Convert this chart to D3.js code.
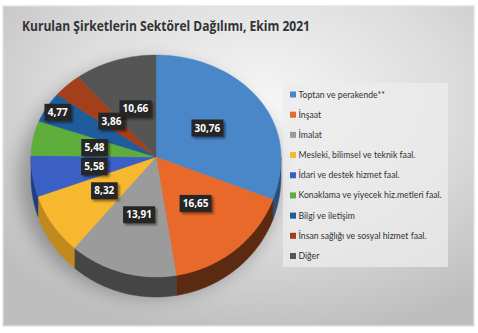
<!DOCTYPE html>
<html><head><meta charset="utf-8">
<script src="https://cdn.jsdelivr.net/npm/d3@7/dist/d3.min.js"></script>
<style>body{margin:0;background:#fff}svg{display:block}</style>
</head><body>
<svg id="c" width="478" height="333"></svg>
<script>
const title = "Kurulan Şirketlerin Sektörel Dağılımı, Ekim 2021";
const categories = ["Toptan ve perakende**","İnşaat","İmalat","Mesleki, bilimsel ve teknik faal.","İdari ve destek hizmet faal.","Konaklama ve yiyecek hiz.metleri faal.","Bilgi ve iletişim","İnsan sağlığı ve sosyal hizmet faal.","Diğer"];
const values = [30.76,16.65,13.91,8.32,5.58,5.48,4.77,3.86,10.66];
const valueLabels = ["30,76","16,65","13,91","8,32","5,58","5,48","4,77","3,86","10,66"];
const colors = ["#4a87c9","#e9692b","#9b9b9b","#f7b72f","#3a60c6","#5fae3b","#1f5c9b","#a3401a","#555555"];
const sideColors = ["#28507a","#5c2a10","#454545","#c08a1f","#233c80","#3a6e24","#133a62","#62260e","#333333"];

const svg = d3.select("#c");
const defs = svg.append("defs");
const bg = defs.append("radialGradient").attr("id","bg").attr("cx","0.55").attr("cy","0.3").attr("r","0.75");
bg.append("stop").attr("offset","0").attr("stop-color","#f6f6f6");
bg.append("stop").attr("offset","0.55").attr("stop-color","#dcdcdc");
bg.append("stop").attr("offset","1").attr("stop-color","#bdbdbd");
const sh = defs.append("filter").attr("id","sh").attr("x","-20%").attr("y","-20%").attr("width","150%").attr("height","150%");
sh.append("feGaussianBlur").attr("in","SourceAlpha").attr("stdDeviation","1.2");
sh.append("feOffset").attr("dx","1.5").attr("dy","1.5").attr("result","b");
sh.append("feComponentTransfer").append("feFuncA").attr("type","linear").attr("slope","0.45");
const fm = sh.append("feMerge"); fm.append("feMergeNode"); fm.append("feMergeNode").attr("in","SourceGraphic");
const blur = defs.append("filter").attr("id","blur").attr("x","-30%").attr("y","-30%").attr("width","160%").attr("height","160%");
blur.append("feGaussianBlur").attr("stdDeviation","9");

svg.append("rect").attr("x",3).attr("y",6).attr("width",471).attr("height",320)
  .attr("fill","url(#bg)").attr("stroke","#e2e2e2").attr("stroke-width",1.5);

svg.append("text").attr("x",22).attr("y",31).text(title)
  .attr("font-family","'Open Sans',sans-serif").attr("font-weight","bold").attr("font-size",14)
  .attr("fill","#333").attr("textLength",288).attr("lengthAdjust","spacingAndGlyphs");

// pie geometry
const cx = 156, cy = 157, rx = 125, ryT = 102, ryB = 120, depth = 20;
const proj = (a, r) => [cx + r*rx*Math.sin(a), cy - r*(Math.cos(a) >= 0 ? ryT : ryB)*Math.cos(a)];
const arcPts = (a0, a1, r, dy=0) => {
  const n = Math.max(2, Math.ceil((a1-a0)/0.01));
  return d3.range(n+1).map(i => { const p = proj(a0 + (a1-a0)*i/n, r); return [p[0], p[1]+dy]; });
};
const pie = d3.pie().sort(null).value(d => d.v);
const arcs = pie(values.map((v,i) => ({v, i})));

// soft shadow
svg.append("ellipse").attr("cx",cx-6).attr("cy",cy+22).attr("rx",rx+6).attr("ry",ryB-2)
  .attr("fill","#000").attr("opacity",0.28).attr("filter","url(#blur)");

const line = d3.line();
const gSide = svg.append("g"), gTop = svg.append("g");
arcs.forEach(d => {
  const s0 = Math.max(d.startAngle, Math.PI/2), s1 = Math.min(d.endAngle, 3*Math.PI/2);
  if (s0 < s1) {
    const top = arcPts(s0, s1, 1), bot = arcPts(s0, s1, 1, depth).reverse();
    gSide.append("path").attr("d", line(top.concat(bot)) + "Z")
      .attr("fill", sideColors[d.data.i]).attr("stroke", sideColors[d.data.i]).attr("stroke-width",0.5);
  }
});
arcs.forEach(d => {
  const pts = [[cx,cy]].concat(arcPts(d.startAngle, d.endAngle, 1));
  gTop.append("path").attr("d", line(pts) + "Z").attr("fill", colors[d.data.i])
    .attr("stroke", colors[d.data.i]).attr("stroke-width",0.4);
});

// labels
const labelFrac = d => d.data.i === 6 ? 0.9 : 0.5;
const gL = svg.append("g").attr("font-family","'Open Sans',sans-serif").attr("font-weight","bold").attr("font-size",10);
arcs.forEach(d => {
  const p = proj((d.startAngle+d.endAngle)/2, labelFrac(d));
  const t = valueLabels[d.data.i];
  const w = t.length*5.4 + 5, h = 17;
  const g = gL.append("g").attr("transform",`translate(${p[0]},${p[1]})`);
  g.append("rect").attr("x",-w/2).attr("y",-h/2).attr("width",w).attr("height",h)
    .attr("fill","#262626").attr("filter","url(#sh)");
  g.append("text").attr("text-anchor","middle").attr("dy","0.36em").attr("fill","#fff").text(t);
});

// legend
svg.append("rect").attr("x",283).attr("y",83).attr("width",165).attr("height",184)
  .attr("fill","#ececec").attr("opacity",0.75);
const ly = d3.scalePoint().domain(categories).range([94.5,256]);
const gLeg = svg.append("g").attr("font-family","Lato,sans-serif").attr("font-size",8.7).attr("fill","#333");
categories.forEach((c,i) => {
  gLeg.append("rect").attr("x",290).attr("y",ly(c)-3).attr("width",6).attr("height",6).attr("fill",colors[i]);
  gLeg.append("text").attr("x",298.5).attr("y",ly(c)).attr("dy","0.35em").text(c);
});
</script>
</body></html>
